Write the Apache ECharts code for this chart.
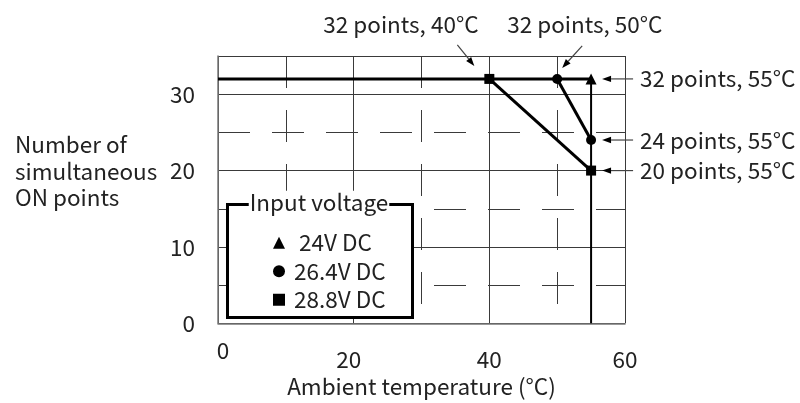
<!DOCTYPE html>
<html><head><meta charset="utf-8">
<script src="https://cdn.jsdelivr.net/npm/echarts@6/dist/echarts.min.js"></script>
<style>html,body{margin:0;padding:0;background:#fff}#c{width:800px;height:403px}</style>
</head><body><div id="c"></div>
<script>
// ---- data ----
const xTickLabels = [0, 20, 40, 60];
const yTickLabels = [0, 10, 20, 30];
const line24V = [[0, 32], [55, 32]];
const drop55 = [[55, 32], [55, 0]];
const line264V = [[50, 32], [55, 24]];
const line288V = [[40, 32], [55, 20]];
const legendNames = ['24V DC', '26.4V DC', '28.8V DC'];
const annoTexts = ['32 points, 40°C', '32 points, 50°C', '32 points, 55°C', '24 points, 55°C', '20 points, 55°C'];
const annoPoints = [[40, 32], [50, 32], [55, 32], [55, 24], [55, 20]];
const xName = 'Ambient temperature (°C)';
const yNameLines = ['Number of', 'simultaneous', 'ON points'];
const legendTitle = 'Input voltage';

// ---- style ----
const FONT = '"Noto Sans CJK JP", "Noto Sans", sans-serif';
const FS = 22.5;
const TXT = '#222';
const GRID = '#3a3a3a';
// annotation layout offsets (pixels, relative to the data point)
const annoLayout = [
  { tx: -166, ty: -54, a0: [-32, -34], a1: [-15, -13] },
  { tx: -50, ty: -54, a0: [25, -33], a1: [5, -11] },
  { tx: 49, ty: 0, a0: [42, 0], a1: [11, 0] },
  { tx: 49, ty: 0, a0: [42, 0], a1: [11, 0] },
  { tx: 49, ty: 0, a0: [42, 0], a1: [11, 0] }
];

const chart = echarts.init(document.getElementById('c'), null, { renderer: 'canvas' });

const baseText = { fontFamily: FONT, fontSize: FS, color: TXT };

function sym(data, first, last, size) {
  return data.map((d, i) => ({
    value: d,
    symbol: i === 0 ? first : last,
    symbolSize: i === 0 ? size[0] : size[1]
  }));
}

const option = {
  animation: false,
  backgroundColor: '#fff',
  grid: { left: 218, top: 56, width: 407, height: 269 },
  xAxis: [
    {
      type: 'value', min: 0, max: 60, interval: 20,
      axisLine: { show: true, onZero: false, lineStyle: { color: '#777', width: 1.5 } },
      axisTick: { show: false },
      axisLabel: {
        margin: 36, verticalAlign: 'middle', ...baseText,
        formatter: v => {
          if (xTickLabels.indexOf(v) < 0) return '';
          if (v === 0) return '{z|' + v + '}';
          if (v === 20) return '{t|' + v + '}';
          return String(v);
        },
        rich: {
          z: { ...baseText, padding: [0, 0, 18, 10] },
          t: { ...baseText, padding: [0, 10, 0, 0] }
        }
      },
      splitLine: { show: true, lineStyle: { color: GRID, width: 1 } },
      name: xName, nameLocation: 'middle', nameGap: 50.5,
      nameTextStyle: { ...baseText }
    },
    {
      type: 'value', min: 0, max: 60, interval: 10,
      axisLine: { show: false }, axisTick: { show: false }, axisLabel: { show: false },
      splitLine: { show: true, lineStyle: { color: GRID, width: 1, type: [32, 22] } }
    }
  ],
  yAxis: [
    {
      type: 'value', min: 0, max: 35, interval: 10,
      axisLine: { show: true, onZero: false, lineStyle: { color: '#777', width: 1.5 } },
      axisTick: { show: false },
      axisLabel: {
        margin: 23, ...baseText,
        formatter: v => (yTickLabels.indexOf(v) >= 0 ? String(v) : '')
      },
      splitLine: { show: true, lineStyle: { color: GRID, width: 1 } }
    },
    {
      type: 'value', min: 0, max: 35, interval: 5,
      axisLine: { show: false }, axisTick: { show: false }, axisLabel: { show: false },
      splitLine: { show: true, lineStyle: { color: GRID, width: 1, type: [32, 22] } }
    }
  ],
  legend: {
    orient: 'vertical', left: 268, top: 226.5, itemWidth: 12, itemHeight: 12, itemGap: 6,
    data: [
      { name: legendNames[0], icon: 'triangle', textStyle: { padding: [0, 0, 0, 9] } },
      { name: legendNames[1], icon: 'circle', textStyle: { padding: [0, 0, 0, 4] } },
      { name: legendNames[2], icon: 'rect', textStyle: { padding: [0, 0, 0, 4] } }
    ],
    textStyle: { ...baseText },
    selectedMode: false
  },
  series: [
    {
      name: legendNames[0], type: 'line', data: sym(line24V, 'none', 'triangle', [0, 11]),
      lineStyle: { color: '#000', width: 3 }, itemStyle: { color: '#000' }, z: 5
    },
    {
      name: 'drop', type: 'line', data: drop55, symbol: 'none',
      lineStyle: { color: '#000', width: 2 }, z: 4
    },
    {
      name: legendNames[1], type: 'line', data: line264V, symbol: 'circle', symbolSize: 10,
      lineStyle: { color: '#000', width: 3 }, itemStyle: { color: '#000' }, z: 5
    },
    {
      name: legendNames[2], type: 'line', data: line288V, symbol: 'rect', symbolSize: 10,
      lineStyle: { color: '#000', width: 3 }, itemStyle: { color: '#000' }, z: 6
    }
  ]
};
chart.setOption(option);

// ---- annotations & legend box via graphic ----
function arrow(p0, p1) {
  const dx = p1[0] - p0[0], dy = p1[1] - p0[1];
  const L = Math.sqrt(dx * dx + dy * dy), ux = dx / L, uy = dy / L;
  const hl = 9, hw = 3.2;
  const bx = p1[0] - ux * hl, by = p1[1] - uy * hl;
  return [
    { type: 'line', z: 10, shape: { x1: p0[0], y1: p0[1], x2: bx, y2: by }, style: { stroke: '#444', lineWidth: 1.2 } },
    { type: 'polygon', z: 10, shape: { points: [[p1[0], p1[1]], [bx - uy * hw, by + ux * hw], [bx + uy * hw, by - ux * hw]] }, style: { fill: '#000' } }
  ];
}

const elements = [];
annoPoints.forEach((pt, i) => {
  const p = chart.convertToPixel({ xAxisIndex: 0, yAxisIndex: 0 }, pt);
  const L = annoLayout[i];
  elements.push({
    type: 'text', z: 10, x: p[0] + L.tx, y: p[1] + L.ty,
    style: { text: annoTexts[i], font: FS + 'px ' + FONT, fill: TXT, align: 'left', verticalAlign: 'middle' }
  });
  arrow([p[0] + L.a0[0], p[1] + L.a0[1]], [p[0] + L.a1[0], p[1] + L.a1[1]]).forEach(e => elements.push(e));
});

// legend frame
elements.push({ type: 'rect', z: 3, shape: { x: 227.5, y: 204.5, width: 185, height: 113 }, style: { fill: '#fff', stroke: '#000', lineWidth: 3 } });
elements.push({
  type: 'text', z: 6, x: 319, y: 202,
  style: { text: legendTitle, font: FS + 'px ' + FONT, fill: TXT, align: 'center', verticalAlign: 'middle', backgroundColor: '#fff', padding: [0, 1] }
});
// y axis name
elements.push({
  type: 'text', z: 10, x: 15, y: 171,
  style: { text: yNameLines.join('\n'), font: FS + 'px ' + FONT, fill: TXT, align: 'left', verticalAlign: 'middle', lineHeight: 26.5 }
});

chart.setOption({ graphic: { elements } });
</script></body></html>
